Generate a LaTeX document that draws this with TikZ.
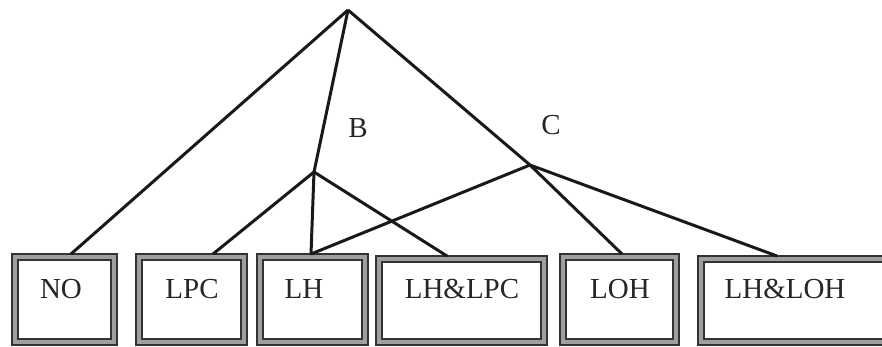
\documentclass[tikz,border=0pt]{standalone}
\usepackage{fontspec}
\setmainfont{Liberation Serif}
\begin{document}
\begin{tikzpicture}[x=0.5pt,y=-0.5pt,
  edge/.style={line width=1.5pt,black!90},
  lbl/.style={font=\fontsize{14.5}{16}\selectfont,text=black!85,inner sep=0pt},
  outerbox/.style={draw=black!80,fill=gray!75,line width=1pt},
  innerbox/.style={draw=black!80,fill=white,line width=1pt}]
\useasboundingbox (0,0) rectangle (882,347);

% framed leaf box: #1 name, #2 left, #3 top, #4 right, #5 text x, #6 text
\newcommand\leafbox[6]{%
  \filldraw[outerbox] (#2,#3) rectangle (#4,345);
  \filldraw[innerbox] (#2+6,#3+6) rectangle (#4-6,339);
  \coordinate (#1) at (#5,#3);
  \node[lbl] at (#5,289) {#6};
}

\leafbox{noT}{12}{254}{117}{61}{NO}
\leafbox{lpcT}{136}{254}{247}{192}{LPC}
\leafbox{lhT}{257}{254}{368}{304}{LH}
\leafbox{lhlpcT}{376}{256}{547}{462}{LH\&LPC}
\leafbox{lohT}{560}{254}{679}{620}{LOH}
\leafbox{lhlohT}{698}{256}{890}{785}{LH\&LOH}

% edge anchor points on the box tops
\coordinate (eNO) at (71,254);
\coordinate (eLPC) at (213,254);
\coordinate (eLH) at (311,254);
\coordinate (eLHLPC) at (447,256);
\coordinate (eLOH) at (622,254);
\coordinate (eLHLOH) at (777,256);

% branching points
\coordinate (top) at (348,10);
\coordinate (b) at (314,172);
\coordinate (c) at (530,165);

\node[lbl] (blbl) at (358,128) {B};
\node[lbl] (clbl) at (551,125) {C};

\draw[edge] (top) -- (eNO);
\draw[edge] (top) -- (b);
\draw[edge] (top) -- (c);
\draw[edge] (b) -- (eLPC);
\draw[edge] (b) -- (eLH);
\draw[edge] (b) -- (eLHLPC);
\draw[edge] (c) -- (eLH);
\draw[edge] (c) -- (eLOH);
\draw[edge] (c) -- (eLHLOH);
\end{tikzpicture}
\end{document}
